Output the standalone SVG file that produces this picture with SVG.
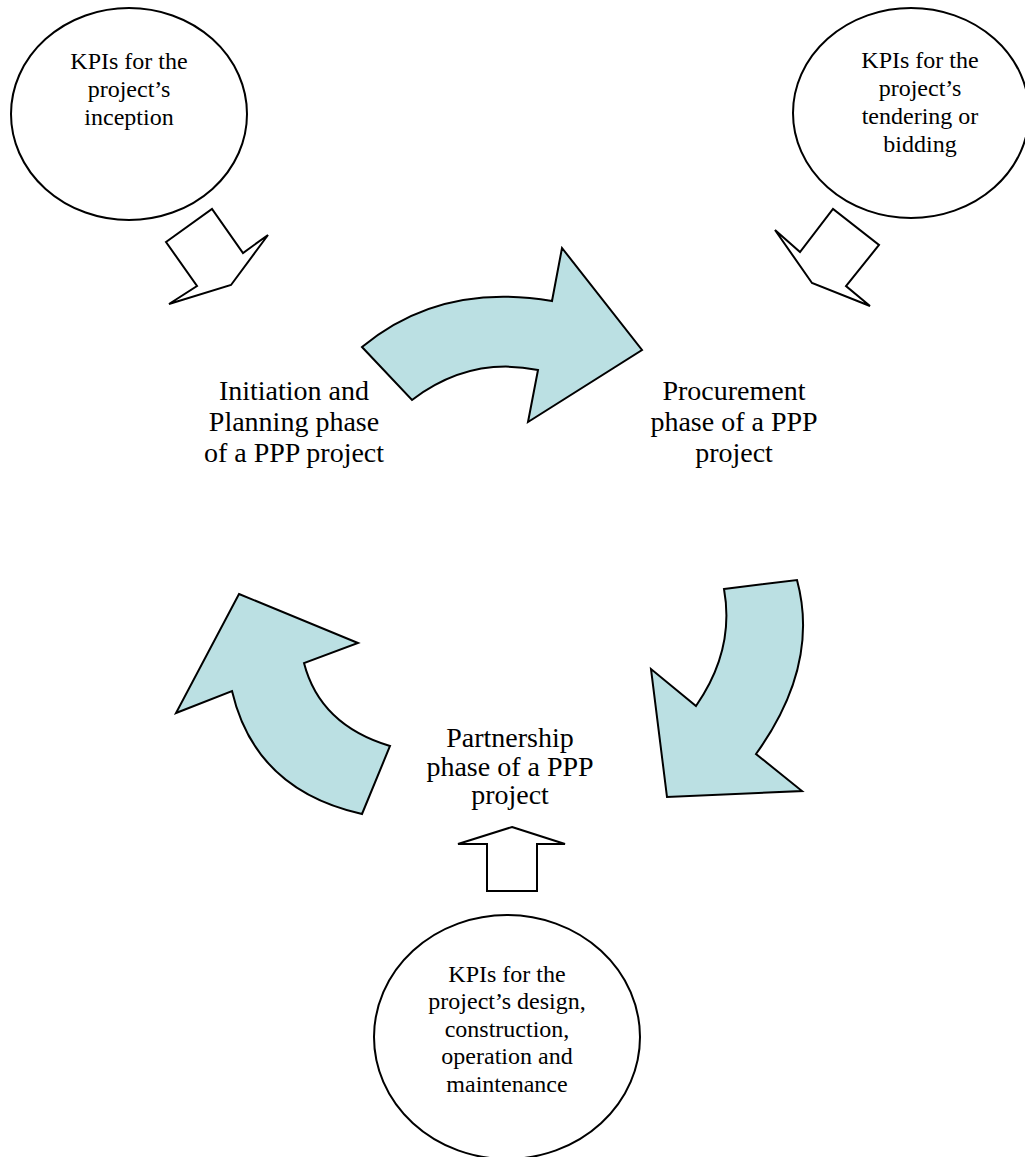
<svg xmlns="http://www.w3.org/2000/svg" width="1025" height="1157" viewBox="0 0 1025 1157">
  <style>
    .kpi { fill: #ffffff; stroke: #000000; stroke-width: 2; }
    .feed { fill: #ffffff; stroke: #000000; stroke-width: 2; stroke-linejoin: miter; }
    .cycle { fill: #BBE0E3; stroke: #000000; stroke-width: 2; stroke-linejoin: miter; }
    text { font-family: "Liberation Serif", "Times New Roman", serif; fill: #000000; text-anchor: middle; }
    .small { font-size: 24px; }
    .phase { font-size: 28px; }
  </style>
  <rect width="1025" height="1157" fill="#ffffff"/>

  <!-- KPI bubbles -->
  <g id="kpi-inception">
    <ellipse class="kpi" cx="129" cy="114" rx="118" ry="106"/>
    <text class="small" x="129" y="69">KPIs for the</text>
    <text class="small" x="129" y="97">project’s</text>
    <text class="small" x="129" y="125">inception</text>
  </g>
  <g id="kpi-tendering">
    <ellipse class="kpi" cx="911" cy="113" rx="118" ry="105"/>
    <text class="small" x="920" y="68">KPIs for the</text>
    <text class="small" x="920" y="96">project’s</text>
    <text class="small" x="920" y="124">tendering or</text>
    <text class="small" x="920" y="152">bidding</text>
  </g>
  <g id="kpi-delivery">
    <ellipse class="kpi" cx="507" cy="1037" rx="133" ry="122"/>
    <text class="small" x="507" y="982">KPIs for the</text>
    <text class="small" x="507" y="1009">project’s design,</text>
    <text class="small" x="507" y="1037">construction,</text>
    <text class="small" x="507" y="1064">operation and</text>
    <text class="small" x="507" y="1092">maintenance</text>
  </g>

  <!-- Phase labels -->
  <g id="phase-initiation">
    <text class="phase" x="294" y="400">Initiation and</text>
    <text class="phase" x="294" y="431">Planning phase</text>
    <text class="phase" x="294" y="462">of a PPP project</text>
  </g>
  <g id="phase-procurement">
    <text class="phase" x="734" y="400">Procurement</text>
    <text class="phase" x="734" y="431">phase of a PPP</text>
    <text class="phase" x="734" y="462">project</text>
  </g>
  <g id="phase-partnership">
    <text class="phase" x="510" y="747">Partnership</text>
    <text class="phase" x="510" y="776">phase of a PPP</text>
    <text class="phase" x="510" y="804">project</text>
  </g>

  <!-- Connectors: KPI feed arrows and the curved phase cycle -->
  <g id="connectors">
    <polygon class="feed" points="166,242 212,209 243,253 268,235 231,285 169,304 197,286"/>
    <polygon class="feed" points="775,230 800,252 833,209 879,245 846,286 870,306 812,283"/>
    <polygon class="feed" points="512,827 565,844 537,844 537,891 487,891 487,844 458,844"/>

    <path class="cycle" d="M362,347 Q440,282 552,301 L562,248 L642,350 L528,422 L538,370 Q470,356 412,400 Z"/>
    <path class="cycle" d="M724,589 L797,580 Q820,665 756,754 L802,791 L667,797 L651,669 L696,706 Q735,650 724,589 Z"/>
    <path class="cycle" d="M239,594 L358,643 L304,663 Q320,725 390,746 L362,814 Q255,790 232,691 L176,713 Z"/>
  </g>
</svg>
